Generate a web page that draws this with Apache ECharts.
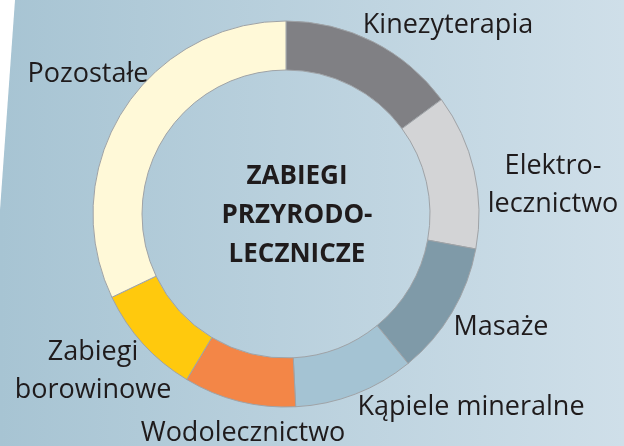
<!DOCTYPE html>
<html><head><meta charset="utf-8">
<script src="https://cdn.jsdelivr.net/npm/echarts@6/dist/echarts.min.js"></script>
<style>html,body{margin:0;padding:0;background:#fff}#c{width:624px;height:446px}</style>
</head><body><div id="c"></div>
<script>
const categories = ['Kinezyterapia','Elektro-\nlecznictwo','Masaże','Kąpiele mineralne','Wodolecznictwo','Zabiegi\nborowinowe','Pozostałe'];
const values = [14.9, 13.0, 11.2, 10.1, 9.4, 9.3, 32.1];
const colors = ['#808084','#d3d4d6','#7f9aa8','#a4c3d3','#f38647','#ffc90d','#fff9d8'];
const centerTitle = 'ZABIEGI\nPRZYRODO-\nLECZNICZE';
const labelPos = [[448,25],[553,185],[501,327],[471,407],[243,433],[93,371],[88,74]];

const chart = echarts.init(document.getElementById('c'));
chart.setOption({
  backgroundColor: {type:'linear', x:0, y:0, x2:1, y2:0, colorStops:[{offset:0,color:'#a7c4d3'},{offset:1,color:'#cfdfe9'}]},
  animation:false,
  graphic:[
    {type:'polygon', shape:{points:[[0,0],[15,0],[0,210]]}, style:{fill:'#ffffff'}, z:-1},
    {type:'text', x:297, y:216, z:10, style:{text:centerTitle, align:'center', verticalAlign:'middle', font:'bold 26px "Open Sans"', lineHeight:39, fill:'#1f1b1c'}}
  ],
  series:[{
    type:'pie',
    center:[286,214],
    radius:[144,193],
    startAngle:90,
    clockwise:true,
    avoidLabelOverlap:false,
    data: categories.map((n,i)=>({name:n, value:values[i], itemStyle:{color:colors[i]}})),
    itemStyle:{borderColor:'#9fa3a7', borderWidth:1},
    label:{show:true, position:'outside', formatter:'{b}', color:'#1f1b1c', fontFamily:'Open Sans', fontSize:27, lineHeight:38, align:'center'},
    labelLine:{show:false},
    labelLayout:function(p){ const q = labelPos[p.dataIndex]; return {x:q[0], y:q[1], align:'center', verticalAlign:'middle'}; },
    emphasis:{disabled:true}
  }]
});
</script></body></html>
